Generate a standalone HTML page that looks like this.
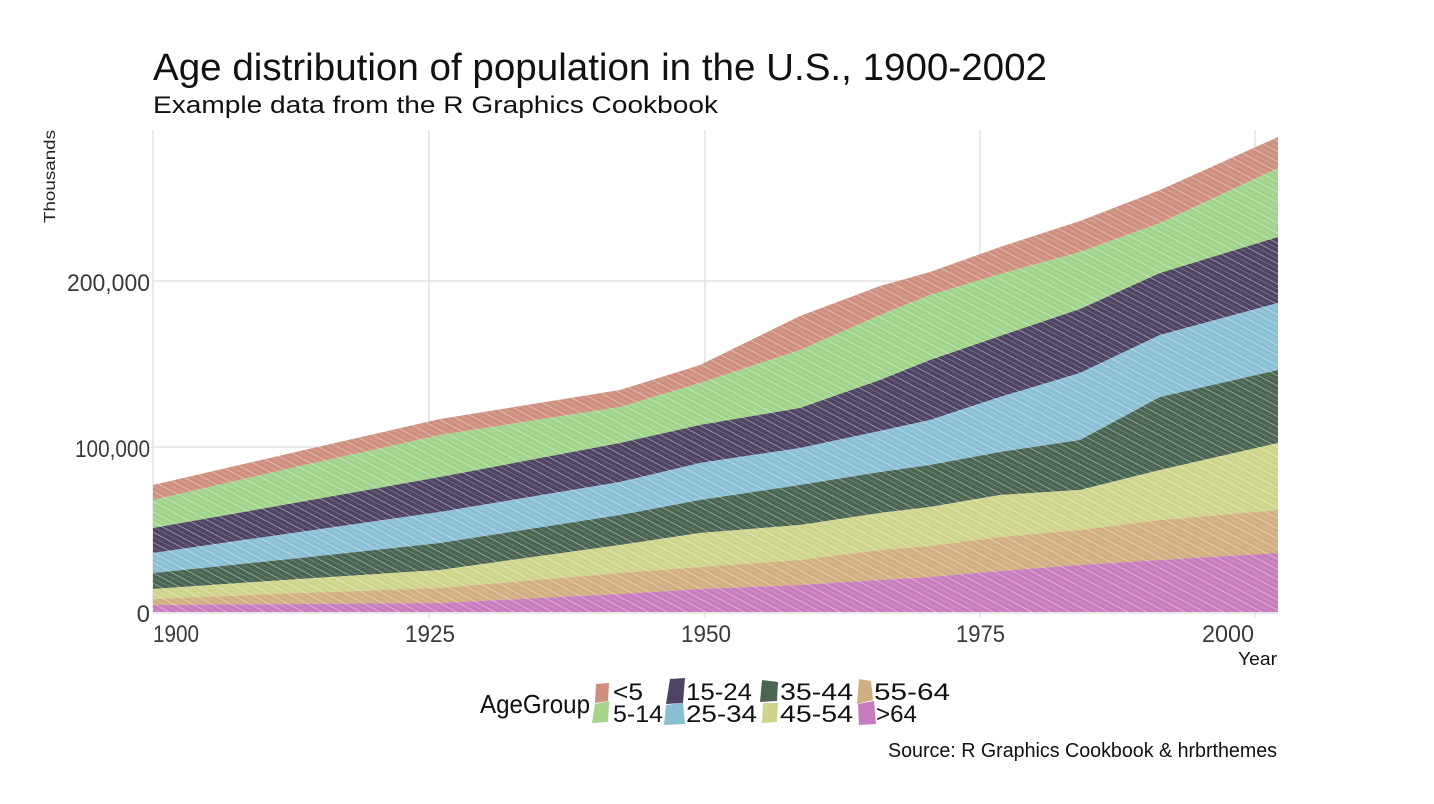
<!DOCTYPE html>
<html><head><meta charset="utf-8">
<style>
html,body{margin:0;padding:0;background:#fff;}
svg{display:block;}
text{font-family:"Liberation Sans","DejaVu Sans",sans-serif;}
</style></head>
<body>
<svg width="1434" height="804" viewBox="0 0 1434 804" xmlns="http://www.w3.org/2000/svg">
<defs>
<pattern id="h" patternUnits="userSpaceOnUse" width="9" height="9" patternTransform="rotate(28)">
<rect width="9" height="9" fill="none"/>
<line x1="0" y1="2" x2="9" y2="2" stroke="#fff" stroke-width="0.9" stroke-opacity="0.45"/>
<line x1="0" y1="6.5" x2="9" y2="6.5" stroke="#fff" stroke-width="0.6" stroke-opacity="0.3"/>
</pattern>
</defs>
<rect width="1434" height="804" fill="#fff"/>

<!-- grid -->
<g stroke="#dcdcdc" stroke-width="1.2" fill="none">
<line x1="153" y1="130" x2="153" y2="613"/>
<line x1="429" y1="130" x2="429" y2="618"/>
<line x1="705" y1="130" x2="705" y2="618"/>
<line x1="980" y1="130" x2="980" y2="618"/>
<line x1="1255" y1="130" x2="1255" y2="618"/>
<line x1="153" y1="281" x2="1278" y2="281"/>
<line x1="153" y1="447" x2="1278" y2="447"/>
<line x1="153" y1="613" x2="1278" y2="613"/>
</g>

<!-- areas -->
<g stroke="none">
<path fill="#cf8f7e" d="M153,485 L300,451 L440,419 L620,390 L700,365 L800,316 L880,286 L930,272 L1000,247 L1080,221 L1160,190 L1278,137 L1278,168 L1160,223 L1080,252 L1000,274 L930,295 L880,315 L800,350 L700,383 L620,407 L440,435 L300,466 L153,500 Z"/>
<path fill="#a0d48a" d="M153,500 L300,466 L440,435 L620,407 L700,383 L800,350 L880,315 L930,295 L1000,274 L1080,252 L1160,223 L1278,168 L1278,237 L1160,273 L1080,309 L1000,336 L930,360 L880,380 L800,408 L700,425 L620,443 L440,477 L300,502 L153,528 Z"/>
<path fill="#4f4464" d="M153,528 L300,502 L440,477 L620,443 L700,425 L800,408 L880,380 L930,360 L1000,336 L1080,309 L1160,273 L1278,237 L1278,303 L1160,335 L1080,373 L1000,397 L930,420 L880,431 L800,448 L700,463 L620,482 L440,512 L300,532 L153,553 Z"/>
<path fill="#8ac0d5" d="M153,553 L300,532 L440,512 L620,482 L700,463 L800,448 L880,431 L930,420 L1000,397 L1080,373 L1160,335 L1278,303 L1278,370 L1160,397 L1080,440 L1000,452 L930,465 L880,472 L800,485 L700,500 L620,515 L440,543 L300,558 L153,573 Z"/>
<path fill="#4a6551" d="M153,573 L300,558 L440,543 L620,515 L700,500 L800,485 L880,472 L930,465 L1000,452 L1080,440 L1160,397 L1278,370 L1278,443 L1160,470 L1080,490 L1000,495 L930,507 L880,513 L800,525 L700,533 L620,545 L440,570 L300,579 L153,589 Z"/>
<path fill="#ced58a" d="M153,589 L300,579 L440,570 L620,545 L700,533 L800,525 L880,513 L930,507 L1000,495 L1080,490 L1160,470 L1278,443 L1278,510 L1160,520 L1080,530 L1000,537 L930,546 L880,550 L800,560 L700,567 L620,573 L440,588 L300,593 L153,599 Z"/>
<path fill="#d2ae80" d="M153,599 L300,593 L440,588 L620,573 L700,567 L800,560 L880,550 L930,546 L1000,537 L1080,530 L1160,520 L1278,510 L1278,553 L1160,560 L1080,565 L1000,571 L930,577 L880,580 L800,585 L700,589 L620,594 L440,603 L300,604 L153,605 Z"/>
<path fill="#c77cbd" d="M153,605 L300,604 L440,603 L620,594 L700,589 L800,585 L880,580 L930,577 L1000,571 L1080,565 L1160,560 L1278,553 L1278,612 L153,612 Z"/>
<path fill="url(#h)" d="M153,485 L300,451 L440,419 L620,390 L700,365 L800,316 L880,286 L930,272 L1000,247 L1080,221 L1160,190 L1278,137 L1278,612 L153,612 Z"/>
</g>

<!-- titles -->
<text x="153" y="80" font-size="38" fill="#111" textLength="894" lengthAdjust="spacingAndGlyphs">Age distribution of population in the U.S., 1900-2002</text>
<text x="153" y="113" font-size="24" fill="#111" textLength="565" lengthAdjust="spacingAndGlyphs">Example data from the R Graphics Cookbook</text>

<!-- y axis title -->
<text transform="translate(55,223) rotate(-90)" x="0" y="0" font-size="16" fill="#222" textLength="93" lengthAdjust="spacingAndGlyphs">Thousands</text>

<!-- y tick labels -->
<g font-size="24" fill="#3a3a3a" text-anchor="end">
<text x="150" y="291" textLength="83" lengthAdjust="spacingAndGlyphs">200,000</text>
<text x="150" y="457" textLength="75" lengthAdjust="spacingAndGlyphs">100,000</text>
<text x="150" y="622">0</text>
</g>

<!-- x tick labels -->
<g font-size="24" fill="#3a3a3a">
<text x="153" y="642" textLength="46" lengthAdjust="spacingAndGlyphs">1900</text>
<text x="405" y="642" textLength="50" lengthAdjust="spacingAndGlyphs">1925</text>
<text x="681" y="642" textLength="50" lengthAdjust="spacingAndGlyphs">1950</text>
<text x="956" y="642" textLength="49" lengthAdjust="spacingAndGlyphs">1975</text>
<text x="1202" y="642" textLength="52" lengthAdjust="spacingAndGlyphs">2000</text>
</g>
<text x="1238" y="665" font-size="18" fill="#111" textLength="39" lengthAdjust="spacingAndGlyphs">Year</text>

<!-- legend -->
<text x="480" y="713" font-size="26" fill="#111" textLength="110" lengthAdjust="spacingAndGlyphs">AgeGroup</text>
<polygon fill="#cf8f7f" points="596,684 609,683 608,701 595,703"/>
<polygon fill="#a3d48a" points="595,704 609,701 608,722 592,723"/>
<polygon fill="#4f4463" points="670,679 685,678 683,703 666,704"/>
<polygon fill="#89bfd3" points="666,705 683,703 685,724 664,725"/>
<polygon fill="#4b6551" points="762,680 778,682 777,701 760,702"/>
<polygon fill="#cfd58a" points="763,703 778,703 777,722 762,723"/>
<polygon fill="#cfae80" points="859,679 871,681 873,700 857,704"/>
<polygon fill="#c57bbd" points="858,704 874,701 876,724 859,725"/>
<g font-size="24" fill="#111">
<text x="613" y="700" textLength="30" lengthAdjust="spacingAndGlyphs">&lt;5</text>
<text x="613" y="722" textLength="50" lengthAdjust="spacingAndGlyphs">5-14</text>
<text x="686" y="700" textLength="66" lengthAdjust="spacingAndGlyphs">15-24</text>
<text x="686" y="722" textLength="71" lengthAdjust="spacingAndGlyphs">25-34</text>
<text x="780" y="700" textLength="73" lengthAdjust="spacingAndGlyphs">35-44</text>
<text x="780" y="722" textLength="73" lengthAdjust="spacingAndGlyphs">45-54</text>
<text x="874" y="700" textLength="76" lengthAdjust="spacingAndGlyphs">55-64</text>
<text x="876" y="722" textLength="41" lengthAdjust="spacingAndGlyphs">&gt;64</text>
</g>

<!-- caption -->
<text x="888" y="757" font-size="20" fill="#111" textLength="389" lengthAdjust="spacingAndGlyphs">Source: R Graphics Cookbook &amp; hrbrthemes</text>
</svg>
</body></html>
